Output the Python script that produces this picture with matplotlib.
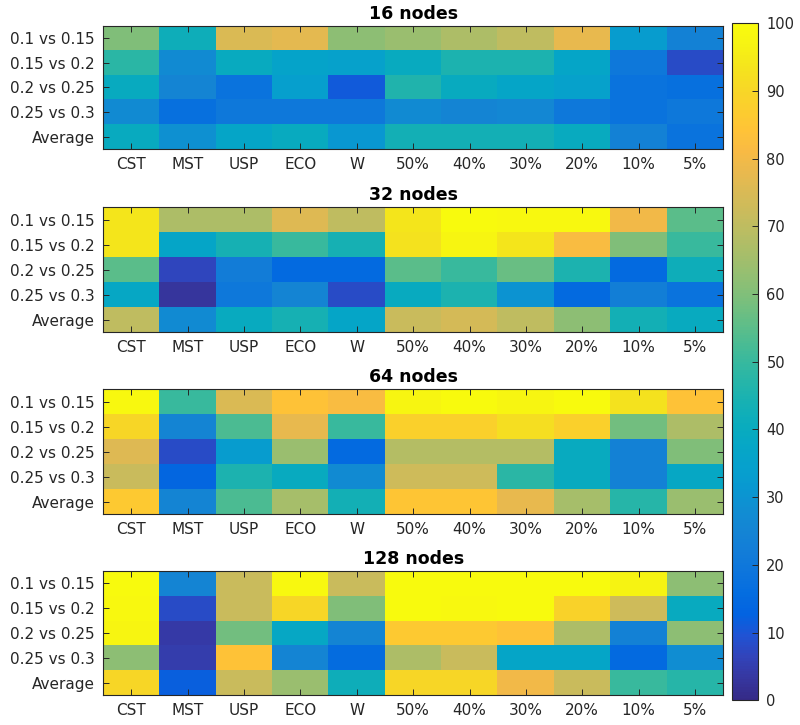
import numpy as np
import matplotlib
matplotlib.use('Agg')
import matplotlib.pyplot as plt
from matplotlib.colors import LinearSegmentedColormap

plt.rcParams['font.family'] = ['DejaVu Sans']

ROWS = ['0.1 vs 0.15', '0.15 vs 0.2', '0.2 vs 0.25', '0.25 vs 0.3', 'Average']
COLS = ['CST', 'MST', 'USP', 'ECO', 'W', '50%', '40%', '30%', '20%', '10%', '5%']
TITLES = ['16 nodes', '32 nodes', '64 nodes', '128 nodes']

# values (0-100)
nodes16 = [
    [60, 42, 75, 77, 62, 64, 67, 70, 78, 33, 24],
    [48, 27, 40, 36, 35, 40, 45, 45, 37, 20, 8],
    [40, 25, 18, 34, 11, 46, 40, 37, 35, 18, 17],
    [27, 17, 20, 20, 20, 27, 25, 26, 20, 18, 20],
    [40, 29, 37, 40, 31, 43, 43, 43, 40, 24, 18],
]
nodes32 = [
    [94, 67, 67, 76, 70, 94, 100, 99, 99, 80, 55],
    [94, 37, 44, 50, 44, 93, 98, 94, 82, 60, 50],
    [55, 7, 22, 15, 15, 55, 50, 57, 45, 15, 42],
    [38, 3, 20, 25, 8, 40, 45, 30, 15, 23, 18],
    [70, 27, 40, 44, 37, 72, 74, 70, 62, 43, 40],
]
nodes64 = [
    [99, 50, 75, 84, 82, 98, 100, 98, 100, 93, 84],
    [90, 25, 53, 78, 50, 88, 88, 92, 88, 58, 67],
    [76, 8, 33, 64, 15, 68, 68, 68, 40, 24, 60],
    [72, 14, 45, 40, 27, 73, 73, 48, 40, 24, 38],
    [86, 25, 53, 66, 43, 85, 85, 78, 66, 47, 64],
]
nodes128 = [
    [100, 25, 72, 99, 72, 100, 100, 100, 100, 97, 62],
    [99, 8, 72, 90, 60, 100, 99, 100, 89, 73, 40],
    [98, 4, 58, 38, 25, 86, 86, 84, 67, 24, 62],
    [62, 5, 84, 25, 16, 67, 72, 37, 37, 15, 28],
    [90, 12, 72, 64, 42, 90, 90, 80, 72, 50, 47],
]
panels = [nodes16, nodes32, nodes64, nodes128]

# MATLAB parula (subset of the 64 entries)
parula_pts = [
    (0.2081, 0.1663, 0.5292), (0.2123, 0.2138, 0.6270), (0.1959, 0.2645, 0.7279),
    (0.1253, 0.3242, 0.8303), (0.0117, 0.3875, 0.8820), (0.0165, 0.4266, 0.8786),
    (0.0498, 0.4586, 0.8641), (0.0723, 0.4887, 0.8467), (0.0793, 0.5200, 0.8312),
    (0.0641, 0.5570, 0.8240), (0.0343, 0.5966, 0.8199), (0.0239, 0.6287, 0.8038),
    (0.0228, 0.6535, 0.7768), (0.0384, 0.6743, 0.7436), (0.0843, 0.6928, 0.7062),
    (0.1453, 0.7098, 0.6646), (0.2178, 0.7250, 0.6193), (0.3022, 0.7376, 0.5712),
    (0.3953, 0.7459, 0.5244), (0.4871, 0.7491, 0.4840), (0.5709, 0.7485, 0.4494),
    (0.6473, 0.7456, 0.4188), (0.7184, 0.7411, 0.3905), (0.7858, 0.7356, 0.3633),
    (0.8507, 0.7299, 0.3360), (0.9139, 0.7258, 0.3063), (0.9739, 0.7314, 0.2666),
    (0.9990, 0.7653, 0.2164), (0.9880, 0.8066, 0.1794), (0.9697, 0.8481, 0.1475),
    (0.9589, 0.8949, 0.1132), (0.9661, 0.9514, 0.0755), (0.9763, 0.9831, 0.0538),
]
parula = LinearSegmentedColormap.from_list('parula', parula_pts)

fig = plt.figure(figsize=(8, 7.25), dpi=100)

# [left, bottom, width, height] in figure fractions
boxes = [
    [0.129, 0.7945, 0.775, 0.1697],
    [0.129, 0.542, 0.775, 0.1724],
    [0.129, 0.291, 0.775, 0.1724],
    [0.129, 0.0414, 0.775, 0.171],
]

for box, data, title in zip(boxes, panels, TITLES):
    ax = fig.add_axes(box)
    im = ax.imshow(np.array(data), cmap=parula, vmin=0, vmax=100,
                   aspect='auto', interpolation='nearest')
    ax.set_xticks(range(len(COLS)))
    ax.set_xticklabels(COLS, fontsize=11, color='#262626')
    ax.set_yticks(range(len(ROWS)))
    ax.set_yticklabels(ROWS, fontsize=11, color='#262626')
    ax.tick_params(direction='in', top=True, right=True, length=4,
                   width=0.7, color='#262626', pad=6)
    for s in ax.spines.values():
        s.set_color('#262626')
        s.set_linewidth(0.8)
    ax.set_title(title, fontsize=12.5, fontweight='bold', pad=5)

cax = fig.add_axes([0.9155, 0.034, 0.032, 0.934])
cb = fig.colorbar(im, cax=cax, ticks=range(0, 101, 10))
cb.ax.tick_params(direction='in', length=4, width=0.7, labelsize=10.5,
                  color='#262626', labelcolor='#262626', pad=6)
cb.outline.set_edgecolor('#262626')
cb.outline.set_linewidth(0.8)

plt.savefig('out.png', dpi=100)
